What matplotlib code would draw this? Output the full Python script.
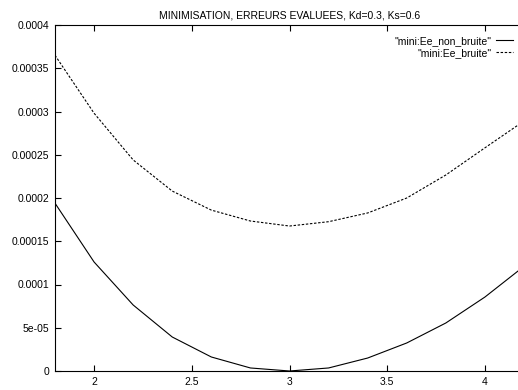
import matplotlib
matplotlib.use("Agg")
import matplotlib.pyplot as plt
from matplotlib.ticker import FixedLocator, FixedFormatter

plt.rcParams['font.family'] = ['Liberation Sans', 'DejaVu Sans']

# valeurs
x = [1.8, 2.0, 2.2, 2.4, 2.6, 2.8, 3.0, 3.2, 3.4, 3.6, 3.8, 4.0, 4.2]
ee_non_bruite = [0.000194, 0.000126, 0.0000763, 0.0000393, 0.0000162, 0.0000035, 0.0,
                 0.0000035, 0.000015, 0.0000324, 0.0000555, 0.0000855, 0.000121]
ee_bruite = [0.000365, 0.000298, 0.000244, 0.000208, 0.000186, 0.0001734, 0.0001676,
             0.0001726, 0.0001827, 0.0002, 0.0002266, 0.000258, 0.000289]

xticks = [2, 2.5, 3, 3.5, 4]
xlabels = ['2', '2.5', '3', '3.5', '4']
yticks = [0, 0.00005, 0.0001, 0.00015, 0.0002, 0.00025, 0.0003, 0.00035, 0.0004]
ylabels = ['0', '5e-05', '0.0001', '0.00015', '0.0002', '0.00025', '0.0003', '0.00035', '0.0004']

fig = plt.figure(figsize=(5.18, 3.9), dpi=100)
ax = fig.add_axes([55 / 518, 19 / 390, 469 / 518, 346 / 390])

ax.plot(x, ee_non_bruite, color='black', lw=0.8, label='"mini:Ee_non_bruite"')
ax.plot(x, ee_bruite, color='black', lw=0.8, dashes=(2.2, 1.5), label='"mini:Ee_bruite"')

ax.set_xlim(1.8, 4.2)
ax.set_ylim(0, 0.0004)
ax.xaxis.set_major_locator(FixedLocator(xticks))
ax.xaxis.set_major_formatter(FixedFormatter(xlabels))
ax.yaxis.set_major_locator(FixedLocator(yticks))
ax.yaxis.set_major_formatter(FixedFormatter(ylabels))
ax.tick_params(direction='in', length=4, width=0.8, labelsize=7.5, top=True, right=True, pad=4)
for s in ax.spines.values():
    s.set_linewidth(0.8)

ax.set_title('MINIMISATION, ERREURS EVALUEES, Kd=0.3, Ks=0.6', fontsize=7.5, pad=5)

leg = ax.legend(loc='upper right', bbox_to_anchor=((513 - 55) / 469, (371 - 36) / 346),
                frameon=False, fontsize=7.5, markerfirst=False, handlelength=1.6,
                handletextpad=0.5, labelspacing=0.2, borderaxespad=0, borderpad=0)
for t in leg.get_texts():
    t.set_ha('right')

fig.savefig('out.png', dpi=100)
